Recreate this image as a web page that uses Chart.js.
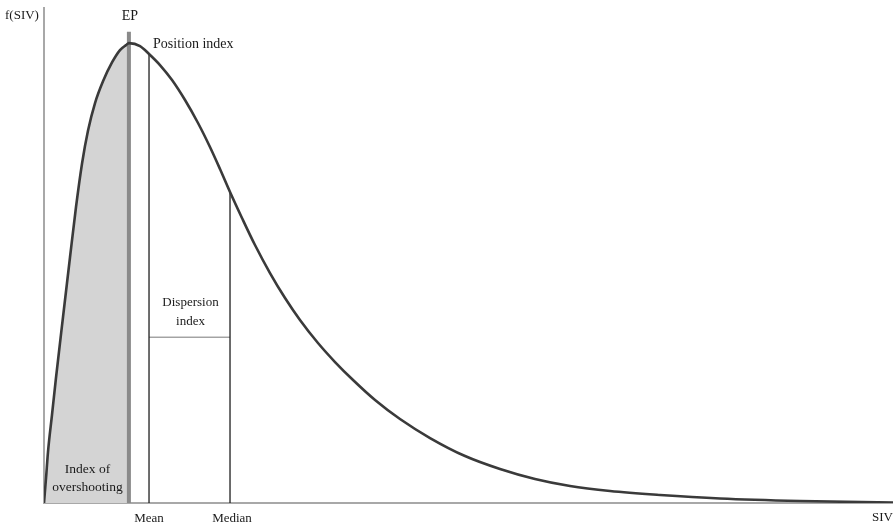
<!DOCTYPE html>
<html>
<head>
<meta charset="utf-8">
<script src="https://cdn.jsdelivr.net/npm/chart.js@4/dist/chart.umd.min.js"></script>
<style>
  html, body { margin: 0; padding: 0; background: #fff; }
  #grafico { display: block; }
</style>
</head>
<body>
<canvas id="grafico" width="893" height="531"></canvas>
<script>
// Curve f(SIV) (SIV 0..100, f 0..100)
const sivX = [0, 0.24, 0.47, 0.94, 1.41, 2.24, 3.06, 3.77, 4.48, 5.18, 6.01, 6.95, 8.01, 8.95, 9.66, 10.0,
  11.31, 12.37, 13.66, 15.08, 16.61, 18.14, 19.55, 20.73, 21.91, 23.32, 24.85, 26.62, 28.39, 30.15,
  32.27, 34.28, 36.40, 38.99, 41.93, 45.47, 49.59, 53.71, 57.83, 61.96, 66.67, 72.56, 79.62, 89.05, 100];
const fY = [0, 5.05, 10.3, 17.78, 25.25, 37.58, 49.6, 59.8, 68.6, 75.2, 80.8, 85.2, 89.0, 91.5, 92.5, 92.9,
  92.32, 90.71, 88.48, 85.45, 81.41, 76.77, 71.92, 67.47, 62.83, 57.58, 52.12, 46.46, 41.41, 36.97,
  32.32, 28.48, 24.85, 20.81, 16.97, 13.13, 9.49, 6.87, 4.85, 3.43, 2.42, 1.62, 0.91, 0.4, 0.1];

// Marked positions
const epX = 10.0;
const epTop = 95.2;
const meanX = 12.37;
const meanY = 90.71;
const medianX = 21.91;
const medianY = 62.83;
const dispersionY = 33.5;

// Text labels
const etiquetas = {
  yAxis: "f(SIV)",
  xAxis: "SIV",
  ep: "EP",
  mean: "Mean",
  median: "Median",
  position: "Position index",
  dispersion: ["Dispersion", "index"],
  overshoot: ["Index of", "overshooting"]
};

const serif = "'Liberation Serif', 'DejaVu Serif', serif";

const curvaPuntos = sivX.map((x, i) => ({ x: x, y: fY[i] }));
// Points of the curve up to EP, for the shaded area
const sombraPuntos = curvaPuntos.filter(p => p.x <= epX);

// Plugin that writes the annotations
const textosPlugin = {
  id: "textos",
  afterDraw(chart) {
    const ctx = chart.ctx;
    const xs = chart.scales.x;
    const ys = chart.scales.y;
    const area = chart.chartArea;
    ctx.save();
    ctx.fillStyle = "#1a1a1a";
    ctx.textBaseline = "middle";

    ctx.font = "13px " + serif;
    ctx.textAlign = "left";
    ctx.fillText(etiquetas.yAxis, 5, 16);

    ctx.font = "14px " + serif;
    ctx.textAlign = "center";
    ctx.fillText(etiquetas.ep, xs.getPixelForValue(epX) + 1, 16);

    ctx.font = "14px " + serif;
    ctx.textAlign = "left";
    ctx.fillText(etiquetas.position, xs.getPixelForValue(meanX) + 4, 44);

    ctx.font = "13px " + serif;
    ctx.textAlign = "center";
    const cxD = (xs.getPixelForValue(meanX) + xs.getPixelForValue(medianX)) / 2 + 1;
    const yD = ys.getPixelForValue(dispersionY);
    ctx.fillText(etiquetas.dispersion[0], cxD, yD - 35);
    ctx.fillText(etiquetas.dispersion[1], cxD, yD - 16);

    ctx.font = "13.5px " + serif;
    const cxO = (xs.getPixelForValue(0) + xs.getPixelForValue(epX)) / 2 + 1;
    ctx.fillText(etiquetas.overshoot[0], cxO, area.bottom - 34);
    ctx.fillText(etiquetas.overshoot[1], cxO, area.bottom - 16);

    ctx.font = "13px " + serif;
    ctx.fillText(etiquetas.mean, xs.getPixelForValue(meanX), area.bottom + 16);
    ctx.fillText(etiquetas.median, xs.getPixelForValue(medianX) + 2, area.bottom + 16);

    ctx.textAlign = "right";
    ctx.fillText(etiquetas.xAxis, 893, area.bottom + 15);
    ctx.restore();
  }
};

new Chart(document.getElementById("grafico"), {
  type: "line",
  data: {
    datasets: [
      {
        label: "overshoot",
        data: sombraPuntos,
        fill: "origin",
        backgroundColor: "#d4d4d4",
        borderWidth: 0,
        pointRadius: 0,
        cubicInterpolationMode: "monotone",
        order: 5
      },
      {
        label: "EP",
        data: [{ x: epX, y: 0 }, { x: epX, y: epTop }],
        borderColor: "#8a8a8a",
        borderWidth: 4,
        pointRadius: 0,
        order: 4
      },
      {
        label: "mean",
        data: [{ x: meanX, y: 0 }, { x: meanX, y: meanY }],
        borderColor: "#1e1e1e",
        borderWidth: 1.3,
        pointRadius: 0,
        order: 3
      },
      {
        label: "median",
        data: [{ x: medianX, y: 0 }, { x: medianX, y: medianY }],
        borderColor: "#1e1e1e",
        borderWidth: 1.3,
        pointRadius: 0,
        order: 3
      },
      {
        label: "dispersion",
        data: [{ x: meanX, y: dispersionY }, { x: medianX, y: dispersionY }],
        borderColor: "#777",
        borderWidth: 1,
        pointRadius: 0,
        order: 3
      },
      {
        label: "f(SIV)",
        data: curvaPuntos,
        borderColor: "#3a3a3a",
        borderWidth: 2.6,
        pointRadius: 0,
        fill: false,
        cubicInterpolationMode: "monotone",
        order: 1
      }
    ]
  },
  options: {
    responsive: false,
    animation: false,
    layout: { padding: { left: 44, right: 0, top: 8, bottom: 28 } },
    plugins: {
      legend: { display: false },
      tooltip: { enabled: false }
    },
    scales: {
      x: {
        type: "linear",
        min: 0,
        max: 100,
        ticks: { display: false },
        grid: { display: false, drawTicks: false },
        border: { display: true, color: "#a8a8a8", width: 2 }
      },
      y: {
        min: 0,
        max: 100,
        ticks: { display: false },
        grid: { display: false, drawTicks: false },
        border: { display: true, color: "#a8a8a8", width: 2 }
      }
    }
  },
  plugins: [textosPlugin]
});
</script>
</body>
</html>
